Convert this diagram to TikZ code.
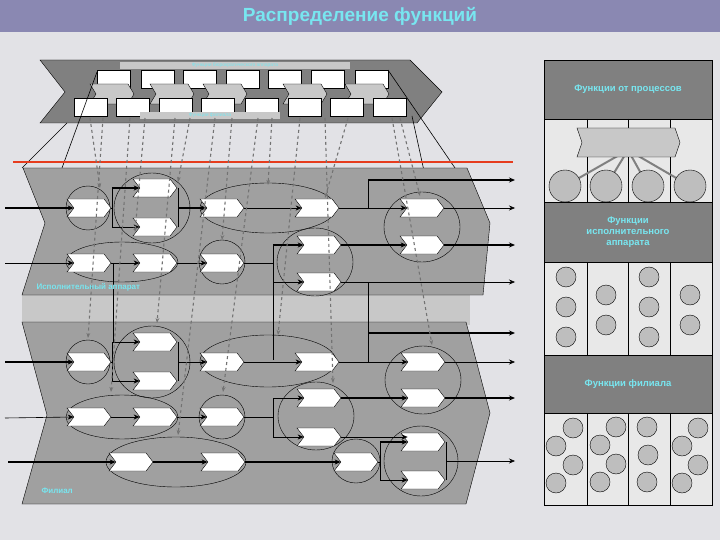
\documentclass[tikz,border=0pt]{standalone}
\usepackage{fontspec}
\setmainfont{Liberation Sans}
\usetikzlibrary{shapes.symbols,shapes.geometric,arrows.meta}
\definecolor{bg}{RGB}{226,226,230}
\definecolor{ttl}{RGB}{138,136,178}
\definecolor{cy}{RGB}{120,230,240}
\definecolor{band}{RGB}{160,160,160}
\definecolor{dk}{RGB}{128,128,128}
\definecolor{lt}{RGB}{200,200,200}
\definecolor{cell}{RGB}{232,232,232}
\definecolor{ball}{RGB}{190,190,190}
\begin{document}
\begin{tikzpicture}[x=1pt,y=-1pt,
 chv/.style={signal, signal from=west, signal to=east, draw, fill=white, minimum width=44pt, minimum height=18pt, inner sep=0pt, signal pointer angle=105},
 ell/.style={draw, ellipse, inner sep=0pt},
 thn/.style={line width=0.6pt},
 thk/.style={line width=1.4pt},
 ar/.style={-{Stealth[length=6pt,width=5pt]}},
 dsh/.style={draw=gray!90!black, dashed, line width=1.1pt, -{Stealth[length=5pt]}},
 lbl/.style={text=cy, font=\bfseries\fontsize{8}{9}\selectfont},
 ball/.style={draw, circle, fill=ball, inner sep=0pt},
 hdr/.style={draw, fill=dk, text=cy, font=\bfseries\fontsize{9.5}{11}\selectfont, align=center}]
\useasboundingbox (0,0) rectangle (720,540);
\fill[bg] (0,0) rectangle (720,540);
\fill[ttl] (0,0) rectangle (720,32);
\node[text=cy, font=\bfseries\fontsize{19}{21}\selectfont] (title) at (360,16) {Распределение функций};
% top chevron
\draw[fill=dk] (40,60) -- (410,60) -- (442,92) -- (417,123) -- (40,123) -- (65,92) -- cycle;
\foreach \a in {97,141,183,226,268,311,355}{\draw[fill=white] (\a,70) rectangle ++(33,18);}
\fill[lt] (120,62) rectangle (350,69);
\node[text=cy, font=\fontsize{5}{6}\selectfont] (tl1) at (235,65.5) {Функции бюрократического аппарата};
\foreach \a in {90,150,203,283,345}{\draw[fill=lt] (\a,84) -- ++(38,0) -- ++(6,10) -- ++(-6,10) -- ++(-38,0) -- ++(6,-10) -- cycle;}
\foreach \a in {74,116,159,201,245,288,330,373}{\draw[fill=white] (\a,98) rectangle ++(33,18);}
\fill[lt] (140,112) rectangle (280,119);
\node[text=cy, font=\fontsize{5}{6}\selectfont] (tl2) at (210,115.5) {Функции филиала};
% perspective lines
\draw[thn] (67,123) -- (22,168);
\draw[thn] (97,72) -- (62,168);
\draw[thn] (388,70) -- (455,168);
\draw[thn] (412,116) -- (457,322);
% bands
\fill[lt] (22,292) rectangle (470,325);
\draw[fill=band] (23,168) -- (467,168) -- (490,223) -- (483,295) -- (22,295) -- (45,223) -- cycle;
\draw[fill=band] (22,322) -- (466,322) -- (490,413) -- (466,504) -- (22,504) -- (47,415) -- cycle;
\draw[draw={rgb,255:red,230;green,60;blue,30}, line width=2.5pt] (13,162) -- (513,162);
% ellipses band 1
\node[ell, minimum width=44pt, minimum height=44pt] (eA1) at (88,208) {};
\node[ell, minimum width=76pt, minimum height=70pt] (eB1) at (152,208) {};
\node[ell, minimum width=136pt, minimum height=50pt] (eC1) at (268,208) {};
\node[ell, minimum width=112pt, minimum height=40pt] (eG1) at (122,262) {};
\node[ell, minimum width=46pt, minimum height=44pt] (eH1) at (222,262) {};
\node[ell, minimum width=76pt, minimum height=68pt] (eE1) at (315,262) {};
\node[ell, minimum width=76pt, minimum height=70pt] (eF1) at (422,227) {};
% ellipses band 2
\node[ell, minimum width=44pt, minimum height=44pt] (eA2) at (88,362) {};
\node[ell, minimum width=76pt, minimum height=72pt] (eB2) at (152,362) {};
\node[ell, minimum width=136pt, minimum height=52pt] (eC2) at (268,361) {};
\node[ell, minimum width=112pt, minimum height=44pt] (eG2) at (122,417) {};
\node[ell, minimum width=46pt, minimum height=44pt] (eH2) at (222,417) {};
\node[ell, minimum width=76pt, minimum height=68pt] (eE2) at (316,416) {};
\node[ell, minimum width=76pt, minimum height=68pt] (eF2) at (423,380) {};
\node[ell, minimum width=140pt, minimum height=50pt] (eI) at (176,462) {};
\node[ell, minimum width=48pt, minimum height=44pt] (eJ) at (356,461) {};
\node[ell, minimum width=74pt, minimum height=70pt] (eK) at (421,461) {};
% chevrons band 1
\node[chv] (A1) at (89,208) {};
\node[chv] (B1) at (155,188) {};
\node[chv] (B2) at (155,227) {};
\node[chv] (C1) at (222,208) {};
\node[chv] (D1) at (317,208) {};
\node[chv] (E1) at (319,245) {};
\node[chv] (E2) at (319,282) {};
\node[chv] (F1) at (422,208) {};
\node[chv] (F2) at (422,245) {};
\node[chv] (G1) at (89,263) {};
\node[chv] (G2) at (155,263) {};
\node[chv] (H1) at (222,263) {};
% chevrons band 2
\node[chv] (A2) at (89,362) {};
\node[chv] (B3) at (155,342) {};
\node[chv] (B4) at (155,381) {};
\node[chv] (C2) at (222,362) {};
\node[chv] (D2) at (317,362) {};
\node[chv] (E3) at (319,398) {};
\node[chv] (E4) at (319,437) {};
\node[chv] (F3) at (423,362) {};
\node[chv] (F4) at (423,398) {};
\node[chv] (G3) at (89,417) {};
\node[chv] (G4) at (155,417) {};
\node[chv] (H2) at (222,417) {};
\node[chv] (I1) at (131,462) {};
\node[chv] (I2) at (223,462) {};
\node[chv] (J1) at (356,462) {};
\node[chv] (K1) at (423,442) {};
\node[chv] (K2) at (423,480) {};
% coordinates
\coordinate (in1) at (5,208); \coordinate (in2) at (5,263);
\coordinate (in3) at (5,362); \coordinate (in4) at (5,418); \coordinate (in5) at (8,462);
\coordinate (o1) at (515,180); \coordinate (o2) at (515,208); \coordinate (o3) at (515,245); \coordinate (o4) at (515,282);
\coordinate (o5) at (515,333); \coordinate (o6) at (515,362); \coordinate (o7) at (515,398); \coordinate (o8) at (515,461);
\coordinate (ja) at (112,188); \coordinate (jb) at (112,227);
\coordinate (jc) at (178,188); \coordinate (jd) at (178,227);
\coordinate (je) at (368,180); \coordinate (jf) at (368,208);
\coordinate (jg) at (113,342);
\coordinate (jh) at (273,245); \coordinate (ji) at (273,360);
\coordinate (jj) at (368,282); \coordinate (jk) at (368,362);
\coordinate (ka) at (112,342); \coordinate (kb) at (112,381);
\coordinate (kc) at (178,342); \coordinate (kd) at (178,381);
\coordinate (ke) at (273,398); \coordinate (kf) at (273,437);
\coordinate (kg) at (380,442); \coordinate (kh) at (380,480);
\coordinate (ki) at (446,442); \coordinate (kj) at (446,480);
\coordinate (jl) at (368,333);
% band 1 connectors
\draw[thk,ar] (in1) -- (A1.west);
\draw[thn] (A1.east) -- (A1.east -| ja); \draw[thn] (ja) -- (jb);
\draw[thk,ar] (ja) -- (B1.west); \draw[thn,ar] (jb) -- (B2.west);
\draw[thn] (jc) -- (jd);
\draw[thk,ar] (C1.west -| jc) -- (C1.west);
\draw[thn,ar] (C1.east) -- (D1.west);
\draw[thn] (D1.east) -- (jf); \draw[thn] (jf) -- (je);
\draw[thk,ar] (je) -- (o1);
\draw[thn,ar] (jf) -- (F1.west);
\draw[thn,ar] (F1.east) -- (o2);
\draw[thk,ar] (E1.east) -- (F2.west);
\draw[thk,ar] (F2.east) -- (o3);
\draw[thn,ar] (in2) -- (G1.west);
\draw[thn,ar] (G1.east) -- (G2.west);
\draw[thn,ar] (G2.east) -- (H1.west);
\draw[thn] (G1.east -| jg) -- (jg);
\draw[thn] (H1.east) -- (H1.east -| jh); \draw[thn] (jh) -- (ji);
\draw[thk,ar] (jh) -- (E1.west);
\draw[thn,ar] (E2.west -| jh) -- (E2.west);
\draw[thn,ar] (E2.east) -- (o4);
\draw[thn] (jj) -- (jk);
% band 2 connectors
\draw[thk,ar] (in3) -- (A2.west);
\draw[thn] (A2.east) -- (A2.east -| ka); \draw[thn] (ka) -- (kb);
\draw[thn,ar] (ka) -- (B3.west); \draw[thn,ar] (kb) -- (B4.west);
\draw[thn] (kc) -- (kd);
\draw[thn,ar] (C2.west -| kc) -- (C2.west);
\draw[thn,ar] (C2.east) -- (D2.west);
\draw[thn,ar] (D2.east) -- (F3.west);
\draw[thk,ar] (jl) -- (o5);
\draw[thn,ar] (F3.east) -- (o6);
\draw[thn,ar] (in4) -- (G3.west);
\draw[thn,ar] (G3.east) -- (G4.west);
\draw[thn,ar] (G4.east) -- (H2.west);
\draw[thn] (H2.east) -- (H2.east -| ke); \draw[thn] (ke) -- (kf);
\draw[thn,ar] (ke) -- (E3.west); \draw[thn,ar] (kf) -- (E4.west);
\draw[thk,ar] (E3.east) -- (F4.west);
\draw[thk,ar] (F4.east) -- (o7);
\draw[thn,ar] (E4.east) -- (K1.west |- E4.east);
\draw[thk,ar] (in5) -- (I1.west);
\draw[thk,ar] (I1.east) -- (I2.west);
\draw[thk,ar] (I2.east) -- (J1.west);
\draw[thn] (J1.east) -- (J1.east -| kg); \draw[thn] (kg) -- (kh);
\draw[thk,ar] (kg) -- (K1.west); \draw[thn,ar] (kh) -- (K2.west);
\draw[thn] (ki) -- (kj);
\draw[thn,ar] (o8 -| ki) -- (o8);
% dashed lines
\foreach \sx/\ex/\ey in {90/100/188, 103/88/338, 130/111/392, 145/135/232, 175/157/323, 190/178/182, 215/178/435, 232/222/240, 258/223/392, 272/268/185, 300/278/335, 325/333/383, 348/325/198, 392/432/345, 400/420/196}{
 \draw[dsh] (\sx,118) -- (\ex,\ey);}
\node[lbl, anchor=west] (lb1) at (33,287) {Исполнительный аппарат};
\node[lbl, anchor=west] (lb2) at (38,491) {Филиал};
% right panel
\node[hdr, minimum width=168pt, minimum height=59pt] (h1) at (628,89.5) {Функции от процессов};
\draw[fill=cell] (544,119) rectangle (712,202);
\foreach \a in {587,628,670}{\draw (\a,119) -- (\a,202);}
\foreach \a in {565,606,648,690}{\draw[gray, line width=2pt] (628,150) -- (\a,186);}
\draw[fill=lt] (577,128) -- (675,128) -- (680,142.5) -- (675,157) -- (577,157) -- (582,142.5) -- cycle;
\foreach \a in {565,606,648,690}{\node[ball, minimum size=32pt] at (\a,186) {};}
\node[hdr, minimum width=168pt, minimum height=60pt] (h2) at (628,232) {Функции\\исполнительного\\аппарата};
\draw[fill=cell] (544,262) rectangle (712,355);
\foreach \a in {587,628,670}{\draw (\a,262) -- (\a,355);}
\foreach \p in {(566,277),(566,307),(566,337),(606,295),(606,325),(649,277),(649,307),(649,337),(690,295),(690,325)}{\node[ball, minimum size=20pt] at \p {};}
\node[hdr, minimum width=168pt, minimum height=58pt] (h3) at (628,384) {Функции филиала};
\draw[fill=cell] (544,413) rectangle (712,505);
\foreach \a in {587,628,670}{\draw (\a,413) -- (\a,505);}
\foreach \p in {(573,428),(556,446),(573,465),(556,483),(616,427),(600,445),(616,464),(600,482),(647,427),(648,455),(647,482),(698,428),(682,446),(698,465),(682,483)}{\node[ball, minimum size=20pt] at \p {};}
\end{tikzpicture}
\end{document}
